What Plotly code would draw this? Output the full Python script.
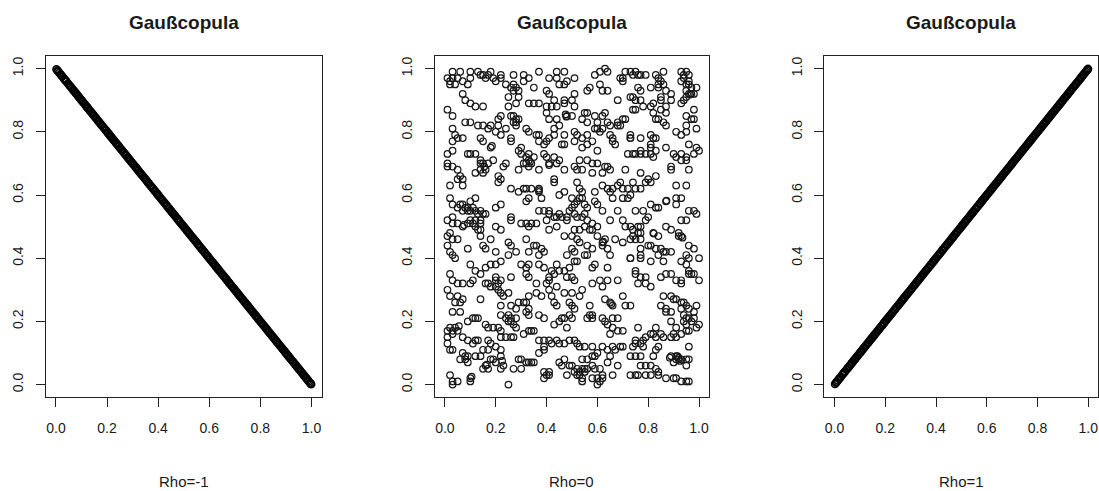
import plotly.graph_objects as go

# ---------------- data ----------------
title_text = "Gaußcopula"
rho_labels = ["Rho=-1", "Rho=0", "Rho=1"]
tick_vals = [0.0, 0.2, 0.4, 0.6, 0.8, 1.0]
tick_text = ["0.0", "0.2", "0.4", "0.6", "0.8", "1.0"]

# Rho = -1 and Rho = 1 panels: points lying on the diagonals
u_side = [0.002, 0.006, 0.009, 0.013, 0.018, 0.021, 0.025, 0.031, 0.034, 0.038, 0.041, 0.047, 0.052, 0.055, 0.059,
          0.063, 0.068, 0.071, 0.076, 0.079, 0.083, 0.088, 0.092, 0.097, 0.101, 0.104, 0.109, 0.113, 0.118, 0.122,
          0.125, 0.131, 0.134, 0.139, 0.143, 0.146, 0.151, 0.155, 0.158, 0.164, 0.167, 0.172, 0.176, 0.179, 0.184,
          0.188, 0.193, 0.196, 0.201, 0.205, 0.209, 0.214, 0.217, 0.222, 0.226, 0.229, 0.235, 0.238, 0.243, 0.247,
          0.251, 0.256, 0.259, 0.264, 0.268, 0.272, 0.276, 0.281, 0.284, 0.289, 0.293, 0.297, 0.302, 0.305, 0.311,
          0.314, 0.318, 0.323, 0.327, 0.331, 0.335, 0.339, 0.344, 0.348, 0.352, 0.357, 0.361, 0.364, 0.369, 0.373,
          0.378, 0.381, 0.386, 0.389, 0.394, 0.398, 0.402, 0.407, 0.411, 0.415, 0.419, 0.424, 0.427, 0.432, 0.436,
          0.441, 0.444, 0.449, 0.453, 0.456, 0.461, 0.465, 0.469, 0.474, 0.478, 0.482, 0.486, 0.491, 0.494, 0.499,
          0.503, 0.507, 0.512, 0.515, 0.520, 0.524, 0.528, 0.533, 0.537, 0.541, 0.545, 0.549, 0.554, 0.558, 0.562,
          0.566, 0.571, 0.574, 0.579, 0.583, 0.587, 0.592, 0.595, 0.600, 0.604, 0.608, 0.613, 0.616, 0.621, 0.625,
          0.629, 0.634, 0.637, 0.642, 0.646, 0.650, 0.655, 0.658, 0.663, 0.667, 0.671, 0.676, 0.679, 0.684, 0.688,
          0.692, 0.697, 0.700, 0.705, 0.709, 0.713, 0.718, 0.721, 0.726, 0.730, 0.734, 0.739, 0.742, 0.747, 0.751,
          0.755, 0.760, 0.763, 0.768, 0.772, 0.776, 0.781, 0.784, 0.789, 0.793, 0.797, 0.802, 0.805, 0.810, 0.814,
          0.818, 0.823, 0.826, 0.831, 0.835, 0.839, 0.844, 0.847, 0.852, 0.856, 0.860, 0.865, 0.868, 0.873, 0.877,
          0.881, 0.886, 0.889, 0.894, 0.898, 0.902, 0.907, 0.910, 0.915, 0.919, 0.923, 0.928, 0.931, 0.936, 0.940,
          0.944, 0.949, 0.952, 0.957, 0.961, 0.965, 0.970, 0.973, 0.978, 0.982, 0.986, 0.990, 0.994, 0.997, 0.999]

v_neg = [0.998, 0.994, 0.991, 0.987, 0.982, 0.979, 0.975, 0.969, 0.966, 0.962, 0.959, 0.953, 0.948, 0.945, 0.941,
         0.937, 0.932, 0.929, 0.924, 0.921, 0.917, 0.912, 0.908, 0.903, 0.899, 0.896, 0.891, 0.887, 0.882, 0.878,
         0.875, 0.869, 0.866, 0.861, 0.857, 0.854, 0.849, 0.845, 0.842, 0.836, 0.833, 0.828, 0.824, 0.821, 0.816,
         0.812, 0.807, 0.804, 0.799, 0.795, 0.791, 0.786, 0.783, 0.778, 0.774, 0.771, 0.765, 0.762, 0.757, 0.753,
         0.749, 0.744, 0.741, 0.736, 0.732, 0.728, 0.724, 0.719, 0.716, 0.711, 0.707, 0.703, 0.698, 0.695, 0.689,
         0.686, 0.682, 0.677, 0.673, 0.669, 0.665, 0.661, 0.656, 0.652, 0.648, 0.643, 0.639, 0.636, 0.631, 0.627,
         0.622, 0.619, 0.614, 0.611, 0.606, 0.602, 0.598, 0.593, 0.589, 0.585, 0.581, 0.576, 0.573, 0.568, 0.564,
         0.559, 0.556, 0.551, 0.547, 0.544, 0.539, 0.535, 0.531, 0.526, 0.522, 0.518, 0.514, 0.509, 0.506, 0.501,
         0.497, 0.493, 0.488, 0.485, 0.480, 0.476, 0.472, 0.467, 0.463, 0.459, 0.455, 0.451, 0.446, 0.442, 0.438,
         0.434, 0.429, 0.426, 0.421, 0.417, 0.413, 0.408, 0.405, 0.400, 0.396, 0.392, 0.387, 0.384, 0.379, 0.375,
         0.371, 0.366, 0.363, 0.358, 0.354, 0.350, 0.345, 0.342, 0.337, 0.333, 0.329, 0.324, 0.321, 0.316, 0.312,
         0.308, 0.303, 0.300, 0.295, 0.291, 0.287, 0.282, 0.279, 0.274, 0.270, 0.266, 0.261, 0.258, 0.253, 0.249,
         0.245, 0.240, 0.237, 0.232, 0.228, 0.224, 0.219, 0.216, 0.211, 0.207, 0.203, 0.198, 0.195, 0.190, 0.186,
         0.182, 0.177, 0.174, 0.169, 0.165, 0.161, 0.156, 0.153, 0.148, 0.144, 0.140, 0.135, 0.132, 0.127, 0.123,
         0.119, 0.114, 0.111, 0.106, 0.102, 0.098, 0.093, 0.090, 0.085, 0.081, 0.077, 0.072, 0.069, 0.064, 0.060,
         0.056, 0.051, 0.048, 0.043, 0.039, 0.035, 0.030, 0.027, 0.022, 0.018, 0.014, 0.010, 0.006, 0.003, 0.001]

# Rho = 0 panel: points read region by region (x, y)
mid_top_left = [
    (0.03, 0.99), (0.06, 0.99), (0.10, 0.99), (0.13, 0.99), (0.15, 0.98), (0.18, 0.99), (0.22, 0.98), (0.27, 0.98),
    (0.31, 0.98), (0.37, 0.99), (0.44, 0.99), (0.47, 0.99),
    (0.01, 0.97), (0.02, 0.95), (0.04, 0.95), (0.05, 0.97), (0.07, 0.96), (0.09, 0.95), (0.10, 0.97), (0.14, 0.98),
    (0.16, 0.97), (0.20, 0.96), (0.22, 0.97), (0.24, 0.95), (0.26, 0.94), (0.27, 0.93), (0.29, 0.93), (0.31, 0.96),
    (0.33, 0.97), (0.35, 0.94), (0.41, 0.97), (0.44, 0.97), (0.48, 0.96), (0.45, 0.95), (0.47, 0.95), (0.40, 0.93),
    (0.07, 0.92), (0.08, 0.90), (0.10, 0.89), (0.12, 0.88), (0.15, 0.88), (0.25, 0.91), (0.29, 0.91), (0.25, 0.88),
    (0.28, 0.89), (0.33, 0.89), (0.35, 0.89), (0.37, 0.89), (0.40, 0.88), (0.44, 0.88), (0.47, 0.90), (0.47, 0.89),
    (0.41, 0.92),
    (0.01, 0.87), (0.03, 0.85), (0.08, 0.83), (0.10, 0.83), (0.13, 0.82), (0.15, 0.82), (0.18, 0.82), (0.21, 0.84),
    (0.22, 0.85), (0.26, 0.85), (0.28, 0.84), (0.28, 0.83), (0.21, 0.82), (0.24, 0.81), (0.28, 0.82), (0.40, 0.86),
    (0.41, 0.84), (0.44, 0.84), (0.475, 0.855), (0.48, 0.85), (0.478, 0.848), (0.45, 0.82), (0.43, 0.81),
    (0.03, 0.81), (0.04, 0.79), (0.05, 0.78), (0.14, 0.78), (0.17, 0.81), (0.20, 0.80), (0.22, 0.79), (0.26, 0.78),
    (0.32, 0.81), (0.33, 0.80), (0.36, 0.79), (0.37, 0.79), (0.43, 0.79), (0.47, 0.79),
    (0.02, 0.96), (0.03, 0.97), (0.17, 0.98), (0.19, 0.97), (0.27, 0.85), (0.29, 0.84), (0.27, 0.83), (0.43, 0.90),
    (0.42, 0.88), (0.27, 0.95), (0.28, 0.94),
]

mid_top_right = [
    (0.59, 0.98), (0.61, 0.99), (0.63, 1.00), (0.64, 0.99), (0.70, 0.97), (0.71, 0.99), (0.73, 0.99), (0.75, 0.99),
    (0.77, 0.98), (0.79, 0.98), (0.83, 0.98), (0.84, 0.97), (0.86, 0.99), (0.93, 0.99), (0.94, 0.98), (0.95, 0.99),
    (0.96, 0.98),
    (0.51, 0.97), (0.56, 0.93), (0.57, 0.94), (0.61, 0.95), (0.62, 0.93), (0.64, 0.93), (0.69, 0.97), (0.70, 0.96),
    (0.76, 0.94), (0.77, 0.93), (0.81, 0.94), (0.84, 0.95), (0.84, 0.94), (0.87, 0.93), (0.89, 0.92), (0.93, 0.96),
    (0.95, 0.95), (0.96, 0.95), (0.99, 0.94), (0.95, 0.93), (0.96, 0.92),
    (0.50, 0.90), (0.51, 0.92), (0.68, 0.90), (0.73, 0.91), (0.74, 0.91), (0.75, 0.90), (0.77, 0.90), (0.85, 0.90),
    (0.85, 0.91), (0.89, 0.90), (0.93, 0.89), (0.965, 0.918), (0.97, 0.92), (0.98, 0.92), (0.94, 0.90),
    (0.51, 0.88), (0.55, 0.86), (0.56, 0.86), (0.59, 0.85), (0.62, 0.85), (0.63, 0.86), (0.74, 0.87), (0.75, 0.87),
    (0.78, 0.88), (0.81, 0.88), (0.82, 0.89), (0.85, 0.87), (0.87, 0.88), (0.87, 0.86), (0.82, 0.86), (0.98, 0.87),
    (0.50, 0.85), (0.54, 0.84), (0.56, 0.83), (0.60, 0.83), (0.62, 0.81), (0.64, 0.83), (0.65, 0.82), (0.68, 0.82),
    (0.68, 0.83), (0.70, 0.84), (0.71, 0.84), (0.83, 0.84), (0.84, 0.84), (0.86, 0.83), (0.87, 0.82), (0.95, 0.85),
    (0.97, 0.84), (0.98, 0.84), (0.99, 0.81), (0.95, 0.82),
    (0.51, 0.80), (0.52, 0.79), (0.54, 0.78), (0.56, 0.79), (0.59, 0.81), (0.60, 0.81), (0.61, 0.80), (0.65, 0.79),
    (0.66, 0.78), (0.69, 0.82), (0.73, 0.79), (0.73, 0.78), (0.77, 0.78), (0.81, 0.79), (0.82, 0.78), (0.83, 0.78),
    (0.91, 0.80), (0.93, 0.79), (0.95, 0.80),
    (0.94, 0.97), (0.96, 0.96), (0.97, 0.94), (0.95, 0.91), (0.74, 0.98), (0.76, 0.98), (0.85, 0.96), (0.86, 0.95),
]

mid_mid_left = [
    (0.03, 0.77), (0.07, 0.78), (0.15, 0.77), (0.18, 0.75), (0.185, 0.755), (0.26, 0.77), (0.30, 0.75), (0.37, 0.77),
    (0.39, 0.76), (0.40, 0.77), (0.41, 0.78), (0.46, 0.76), (0.47, 0.76),
    (0.01, 0.73), (0.03, 0.74), (0.09, 0.73), (0.10, 0.73), (0.12, 0.73), (0.14, 0.70), (0.15, 0.70), (0.17, 0.70),
    (0.19, 0.71), (0.24, 0.70), (0.29, 0.74), (0.30, 0.73), (0.32, 0.72), (0.33, 0.73), (0.33, 0.71), (0.35, 0.72),
    (0.39, 0.73), (0.40, 0.72), (0.41, 0.70), (0.43, 0.72), (0.45, 0.71), (0.47, 0.68),
    (0.01, 0.70), (0.01, 0.69), (0.03, 0.69), (0.05, 0.68), (0.06, 0.66), (0.07, 0.65), (0.12, 0.67), (0.14, 0.68),
    (0.15, 0.67), (0.16, 0.68), (0.23, 0.69), (0.29, 0.68), (0.31, 0.70), (0.335, 0.705), (0.33, 0.69), (0.37, 0.68),
    (0.41, 0.695), (0.44, 0.70),
    (0.02, 0.63), (0.05, 0.65), (0.07, 0.63), (0.21, 0.66), (0.22, 0.65), (0.21, 0.64), (0.26, 0.62), (0.29, 0.61),
    (0.31, 0.62), (0.32, 0.62), (0.34, 0.62), (0.37, 0.62), (0.37, 0.61), (0.43, 0.65), (0.43, 0.64), (0.45, 0.60),
    (0.47, 0.61),
    (0.02, 0.59), (0.03, 0.57), (0.05, 0.56), (0.06, 0.57), (0.07, 0.57), (0.09, 0.56), (0.10, 0.58), (0.12, 0.59),
    (0.07, 0.55), (0.09, 0.55), (0.10, 0.55), (0.12, 0.55), (0.14, 0.55), (0.15, 0.54), (0.16, 0.54), (0.20, 0.56),
    (0.22, 0.57), (0.32, 0.58), (0.33, 0.59), (0.38, 0.59), (0.37, 0.55), (0.39, 0.55), (0.41, 0.55), (0.41, 0.54),
    (0.43, 0.53), (0.44, 0.53), (0.45, 0.54), (0.46, 0.53), (0.48, 0.53),
    (0.01, 0.52), (0.03, 0.53), (0.03, 0.51), (0.05, 0.51), (0.07, 0.50), (0.075, 0.505), (0.09, 0.51), (0.10, 0.52),
    (0.11, 0.51), (0.12, 0.50), (0.14, 0.51), (0.14, 0.49), (0.14, 0.52), (0.20, 0.50), (0.22, 0.49), (0.26, 0.53),
    (0.26, 0.52), (0.30, 0.51), (0.32, 0.51), (0.33, 0.50), (0.34, 0.51), (0.36, 0.51), (0.40, 0.52), (0.41, 0.49),
    (0.44, 0.50), (0.48, 0.52), (0.47, 0.47),
    (0.01, 0.47), (0.03, 0.46), (0.05, 0.46), (0.14, 0.47), (0.18, 0.46), (0.25, 0.45), (0.26, 0.44), (0.32, 0.46),
    (0.35, 0.44), (0.36, 0.44), (0.38, 0.43), (0.01, 0.44), (0.02, 0.42), (0.03, 0.41), (0.09, 0.43), (0.15, 0.44),
    (0.16, 0.43), (0.20, 0.42), (0.25, 0.41), (0.28, 0.42), (0.33, 0.42), (0.37, 0.41), (0.39, 0.42), (0.48, 0.41),
    (0.08, 0.56), (0.11, 0.56), (0.13, 0.54), (0.32, 0.70), (0.34, 0.70), (0.12, 0.52), (0.13, 0.49), (0.02, 0.48),
    (0.14, 0.71), (0.155, 0.69), (0.37, 0.615),
]

mid_mid_right = [
    (0.51, 0.77), (0.54, 0.75), (0.56, 0.76), (0.58, 0.77), (0.60, 0.74), (0.66, 0.77), (0.67, 0.76), (0.73, 0.78),
    (0.81, 0.76), (0.81, 0.75), (0.87, 0.75), (0.96, 0.76), (0.99, 0.75), (1.00, 0.74),
    (0.53, 0.71), (0.56, 0.71), (0.58, 0.70), (0.60, 0.70), (0.72, 0.73), (0.74, 0.73), (0.75, 0.73), (0.77, 0.73),
    (0.77, 0.74), (0.79, 0.73), (0.81, 0.73), (0.82, 0.72), (0.83, 0.74), (0.90, 0.73), (0.91, 0.72), (0.93, 0.73),
    (0.95, 0.72), (0.95, 0.71), (0.93, 0.71), (0.98, 0.73),
    (0.51, 0.69), (0.52, 0.68), (0.54, 0.68), (0.58, 0.67), (0.62, 0.67), (0.63, 0.69), (0.64, 0.69), (0.65, 0.68),
    (0.71, 0.68), (0.77, 0.67), (0.83, 0.66), (0.89, 0.69), (0.89, 0.68), (0.96, 0.68),
    (0.52, 0.64), (0.62, 0.63), (0.64, 0.62), (0.65, 0.61), (0.66, 0.62), (0.68, 0.63), (0.69, 0.64), (0.70, 0.62),
    (0.72, 0.62), (0.73, 0.60), (0.74, 0.64), (0.75, 0.62), (0.77, 0.62), (0.79, 0.64), (0.80, 0.65), (0.81, 0.64),
    (0.91, 0.63), (0.95, 0.63), (0.53, 0.62), (0.54, 0.61), (0.59, 0.61), (0.70, 0.59), (0.72, 0.59),
    (0.50, 0.59), (0.51, 0.57), (0.53, 0.59), (0.54, 0.59), (0.55, 0.57), (0.56, 0.56), (0.59, 0.58), (0.60, 0.57),
    (0.62, 0.55), (0.66, 0.59), (0.68, 0.55), (0.75, 0.55), (0.78, 0.55), (0.81, 0.57), (0.83, 0.56), (0.84, 0.56),
    (0.87, 0.58), (0.872, 0.582), (0.91, 0.59), (0.91, 0.57), (0.93, 0.59), (0.96, 0.55), (0.98, 0.55), (0.99, 0.54),
    (0.49, 0.55), (0.51, 0.54), (0.52, 0.53), (0.54, 0.53), (0.56, 0.52),
    (0.58, 0.51), (0.65, 0.52), (0.70, 0.52), (0.71, 0.50), (0.73, 0.50), (0.76, 0.50), (0.77, 0.50), (0.77, 0.48),
    (0.79, 0.52), (0.80, 0.53), (0.82, 0.48), (0.822, 0.478), (0.84, 0.47), (0.87, 0.50), (0.89, 0.49), (0.93, 0.52),
    (0.95, 0.52), (0.51, 0.49), (0.53, 0.49), (0.55, 0.50), (0.57, 0.49), (0.58, 0.49), (0.60, 0.50), (0.92, 0.47),
    (0.93, 0.47), (0.50, 0.47), (0.52, 0.46),
    (0.53, 0.45), (0.56, 0.44), (0.58, 0.43), (0.60, 0.47), (0.62, 0.45), (0.62, 0.44), (0.64, 0.43), (0.67, 0.46),
    (0.70, 0.45), (0.73, 0.46), (0.74, 0.47), (0.75, 0.46), (0.77, 0.46), (0.77, 0.43), (0.80, 0.44), (0.81, 0.44),
    (0.83, 0.43), (0.85, 0.43), (0.86, 0.42), (0.87, 0.42), (0.89, 0.42), (0.935, 0.465), (0.96, 0.44), (0.98, 0.43),
    (0.50, 0.43), (0.51, 0.42), (0.55, 0.41), (0.56, 0.41), (0.65, 0.41), (0.73, 0.40), (0.77, 0.41), (0.84, 0.41),
    (0.95, 0.41), (0.96, 0.40), (1.00, 0.40),
    (0.50, 0.56), (0.52, 0.58), (0.55, 0.54), (0.63, 0.46), (0.623, 0.452), (0.74, 0.49), (0.76, 0.48), (0.92, 0.48),
]

mid_bot_left = [
    (0.04, 0.40), (0.10, 0.38), (0.16, 0.37), (0.18, 0.38), (0.20, 0.38), (0.22, 0.39), (0.30, 0.38), (0.32, 0.37),
    (0.33, 0.38), (0.37, 0.38), (0.39, 0.37), (0.44, 0.38), (0.45, 0.36), (0.47, 0.36), (0.49, 0.37),
    (0.02, 0.35), (0.03, 0.33), (0.05, 0.32), (0.07, 0.32), (0.10, 0.32), (0.11, 0.33), (0.12, 0.36), (0.14, 0.35),
    (0.16, 0.32), (0.17, 0.32), (0.20, 0.34), (0.20, 0.33), (0.22, 0.33), (0.26, 0.34), (0.32, 0.35), (0.33, 0.34),
    (0.36, 0.32), (0.41, 0.33), (0.41, 0.34), (0.43, 0.35), (0.48, 0.34),
    (0.01, 0.30), (0.02, 0.28), (0.04, 0.26), (0.05, 0.28), (0.06, 0.26), (0.07, 0.27), (0.14, 0.27), (0.18, 0.31),
    (0.20, 0.31), (0.22, 0.29), (0.23, 0.28), (0.25, 0.29), (0.31, 0.26), (0.32, 0.26), (0.33, 0.28), (0.36, 0.29),
    (0.38, 0.28), (0.41, 0.30), (0.42, 0.28), (0.43, 0.26), (0.44, 0.25), (0.47, 0.29), (0.22, 0.25), (0.26, 0.25),
    (0.28, 0.24), (0.29, 0.26),
    (0.03, 0.23), (0.06, 0.23), (0.22, 0.22), (0.24, 0.21), (0.25, 0.22), (0.26, 0.21), (0.26, 0.20), (0.28, 0.21),
    (0.28, 0.18), (0.09, 0.20), (0.11, 0.21), (0.12, 0.21), (0.13, 0.21), (0.16, 0.19), (0.17, 0.18), (0.19, 0.18),
    (0.21, 0.18), (0.22, 0.17), (0.32, 0.23), (0.33, 0.24), (0.33, 0.22), (0.37, 0.22), (0.39, 0.21), (0.43, 0.19),
    (0.45, 0.20), (0.46, 0.21), (0.47, 0.21), (0.48, 0.18), (0.02, 0.18), (0.04, 0.18),
    (0.01, 0.17), (0.01, 0.15), (0.03, 0.17), (0.05, 0.17), (0.055, 0.185), (0.07, 0.15), (0.09, 0.14), (0.11, 0.13),
    (0.12, 0.14), (0.13, 0.14), (0.17, 0.14), (0.18, 0.13), (0.20, 0.12), (0.22, 0.15), (0.24, 0.15), (0.26, 0.15),
    (0.27, 0.15), (0.31, 0.16), (0.33, 0.17), (0.34, 0.17), (0.35, 0.17), (0.37, 0.14), (0.39, 0.14), (0.41, 0.14),
    (0.42, 0.13), (0.44, 0.14), (0.45, 0.13), (0.47, 0.13), (0.01, 0.13),
    (0.02, 0.11), (0.03, 0.11), (0.06, 0.08), (0.08, 0.08), (0.09, 0.07), (0.07, 0.10), (0.09, 0.09), (0.12, 0.09),
    (0.14, 0.09), (0.15, 0.11), (0.17, 0.11), (0.18, 0.08), (0.19, 0.08), (0.20, 0.07), (0.22, 0.11), (0.22, 0.09),
    (0.225, 0.075), (0.29, 0.08), (0.30, 0.08), (0.32, 0.07), (0.33, 0.07), (0.34, 0.07), (0.35, 0.07), (0.37, 0.10),
    (0.39, 0.11), (0.39, 0.12), (0.45, 0.07), (0.47, 0.08), (0.46, 0.06),
    (0.16, 0.06), (0.17, 0.05), (0.15, 0.05), (0.165, 0.063), (0.22, 0.05), (0.23, 0.06), (0.27, 0.05), (0.30, 0.05),
    (0.39, 0.04), (0.40, 0.03), (0.41, 0.03), (0.39, 0.02), (0.41, 0.04), (0.48, 0.03), (0.02, 0.03), (0.03, 0.01),
    (0.03, 0.00), (0.05, 0.01), (0.10, 0.02), (0.105, 0.025), (0.10, 0.01), (0.25, 0.00),
    (0.21, 0.32), (0.21, 0.30), (0.42, 0.36), (0.44, 0.31), (0.40, 0.32), (0.25, 0.20), (0.27, 0.19), (0.08, 0.09),
    (0.03, 0.16),
]

mid_bot_right = [
    (0.51, 0.39), (0.52, 0.39), (0.58, 0.37), (0.59, 0.38), (0.64, 0.37), (0.73, 0.40), (0.81, 0.39), (0.86, 0.39),
    (0.93, 0.39), (0.95, 0.38), (0.96, 0.36), (0.98, 0.35), (0.77, 0.40),
    (0.50, 0.34), (0.51, 0.33), (0.58, 0.32), (0.61, 0.33), (0.62, 0.31), (0.64, 0.33), (0.68, 0.33), (0.75, 0.36),
    (0.75, 0.35), (0.77, 0.34), (0.79, 0.34), (0.79, 0.32), (0.81, 0.31), (0.76, 0.32), (0.85, 0.34), (0.87, 0.35),
    (0.89, 0.35), (0.91, 0.33), (0.93, 0.33), (0.93, 0.32), (0.96, 0.35), (0.97, 0.35), (1.00, 0.33), (0.50, 0.29),
    (0.54, 0.30), (0.53, 0.28),
    (0.49, 0.26), (0.50, 0.25), (0.51, 0.24), (0.57, 0.25), (0.58, 0.22), (0.58, 0.21), (0.63, 0.27), (0.65, 0.26),
    (0.66, 0.25), (0.70, 0.28), (0.71, 0.25), (0.73, 0.25), (0.86, 0.28), (0.89, 0.28), (0.90, 0.27), (0.91, 0.27),
    (0.93, 0.26), (0.94, 0.26), (0.95, 0.25), (0.85, 0.25), (0.87, 0.24), (0.87, 0.23), (0.89, 0.23), (0.93, 0.24),
    (0.96, 0.24), (0.98, 0.23), (0.99, 0.25),
    (0.49, 0.22), (0.50, 0.21), (0.56, 0.21), (0.57, 0.22), (0.62, 0.21), (0.63, 0.20), (0.64, 0.19), (0.66, 0.21),
    (0.68, 0.21), (0.66, 0.18), (0.68, 0.17), (0.70, 0.17), (0.65, 0.16), (0.76, 0.18), (0.83, 0.18), (0.89, 0.20),
    (0.91, 0.18), (0.94, 0.20), (0.95, 0.21), (0.96, 0.21), (0.97, 0.20), (0.98, 0.21), (1.00, 0.19), (0.99, 0.18),
    (0.96, 0.17), (0.95, 0.17), (0.93, 0.16),
    (0.79, 0.15), (0.81, 0.16), (0.82, 0.16), (0.83, 0.15), (0.85, 0.16), (0.86, 0.15), (0.89, 0.15), (0.90, 0.16),
    (0.91, 0.15), (0.75, 0.14), (0.78, 0.14), (0.49, 0.14), (0.51, 0.14), (0.52, 0.13), (0.53, 0.12), (0.55, 0.12),
    (0.58, 0.12), (0.62, 0.12), (0.64, 0.11), (0.66, 0.12), (0.67, 0.11), (0.69, 0.12), (0.70, 0.12), (0.74, 0.12),
    (0.75, 0.13), (0.77, 0.13), (0.78, 0.12), (0.83, 0.11), (0.84, 0.12), (0.96, 0.12), (0.89, 0.09),
    (0.54, 0.08), (0.56, 0.08), (0.58, 0.09), (0.59, 0.09), (0.60, 0.10), (0.65, 0.09), (0.73, 0.09), (0.75, 0.09),
    (0.77, 0.09), (0.82, 0.09), (0.885, 0.085), (0.91, 0.09), (0.91, 0.08), (0.92, 0.08), (0.93, 0.08), (0.90, 0.07),
    (0.64, 0.07), (0.68, 0.06), (0.77, 0.06), (0.79, 0.06), (0.81, 0.06), (0.83, 0.05), (0.84, 0.04), (0.95, 0.06),
    (0.49, 0.06), (0.50, 0.06), (0.52, 0.05), (0.54, 0.05), (0.55, 0.05), (0.56, 0.05), (0.58, 0.06), (0.59, 0.05),
    (0.61, 0.05), (0.51, 0.04), (0.52, 0.03), (0.96, 0.08),
    (0.53, 0.03), (0.54, 0.02), (0.54, 0.01), (0.58, 0.02), (0.60, 0.02), (0.62, 0.02), (0.62, 0.03), (0.66, 0.03),
    (0.73, 0.03), (0.75, 0.03), (0.76, 0.03), (0.79, 0.03), (0.81, 0.03), (0.84, 0.03), (0.87, 0.02), (0.90, 0.02),
    (0.91, 0.02), (0.93, 0.01), (0.96, 0.01), (0.95, 0.01), (0.61, 0.01), (0.60, 0.00), (0.95, 0.08),
    (0.92, 0.085), (0.915, 0.09), (0.925, 0.075), (0.53, 0.04), (0.55, 0.04), (0.94, 0.22), (0.95, 0.19),
    (0.655, 0.255),
]

mid_points = mid_top_left + mid_top_right + mid_mid_left + mid_mid_right + mid_bot_left + mid_bot_right
mid_x = [p[0] for p in mid_points]
mid_y = [p[1] for p in mid_points]

# ---------------- figure ----------------
FONT = "Liberation Sans, Arial, sans-serif"
INK = "#1a1a1a"
marker_mid = dict(symbol="circle-open", size=6.6, color=INK, line=dict(width=1.2, color=INK))
marker_side = dict(symbol="circle-open", size=7.0, color="black", line=dict(width=1.6, color="black"))

fig = go.Figure()
fig.add_trace(go.Scatter(x=u_side, y=v_neg, mode="markers", marker=marker_side, xaxis="x", yaxis="y",
                         hoverinfo="skip", showlegend=False))
fig.add_trace(go.Scatter(x=mid_x, y=mid_y, mode="markers", marker=marker_mid, xaxis="x2", yaxis="y2",
                         hoverinfo="skip", showlegend=False))
fig.add_trace(go.Scatter(x=u_side, y=u_side, mode="markers", marker=marker_side, xaxis="x3", yaxis="y3",
                         hoverinfo="skip", showlegend=False))

x_domains = [[0.0416, 0.2927], [0.3956, 0.6453], [0.7501, 0.9995]]
y_domain = [0.191, 0.886]

common = dict(range=[-0.04, 1.04], showgrid=False, zeroline=False, showline=True, mirror=True,
              linecolor="#222222", linewidth=1.3, ticks="outside", ticklen=9, tickwidth=1.2, tickcolor="#222222",
              tickmode="array", tickvals=tick_vals, ticktext=tick_text,
              tickfont=dict(family=FONT, size=14, color=INK), fixedrange=True)

layout = dict(width=1099, height=491, margin=dict(l=0, r=0, t=0, b=0),
              paper_bgcolor="white", plot_bgcolor="white", showlegend=False)
for i in range(3):
    sfx = "" if i == 0 else str(i + 1)
    layout["xaxis" + sfx] = dict(common, domain=x_domains[i], anchor="y" + sfx, ticklabelstandoff=9)
    layout["yaxis" + sfx] = dict(common, domain=y_domain, anchor="x" + sfx, tickangle=-90, ticklabelstandoff=7)
fig.update_layout(**layout)

annotations = []
for i in range(3):
    sfx = "" if i == 0 else str(i + 1)
    annotations.append(dict(text="<b>" + title_text + "</b>", xref="x" + sfx + " domain", yref="paper",
                            x=0.5, y=0.955, xanchor="center", yanchor="middle", showarrow=False,
                            font=dict(family=FONT, size=19, color=INK)))
    annotations.append(dict(text=rho_labels[i], xref="x" + sfx + " domain", yref="paper",
                            x=0.5, y=0.02, xanchor="center", yanchor="middle", showarrow=False,
                            font=dict(family=FONT, size=15, color=INK)))
fig.update_layout(annotations=annotations)

fig.write_html("out.html")
